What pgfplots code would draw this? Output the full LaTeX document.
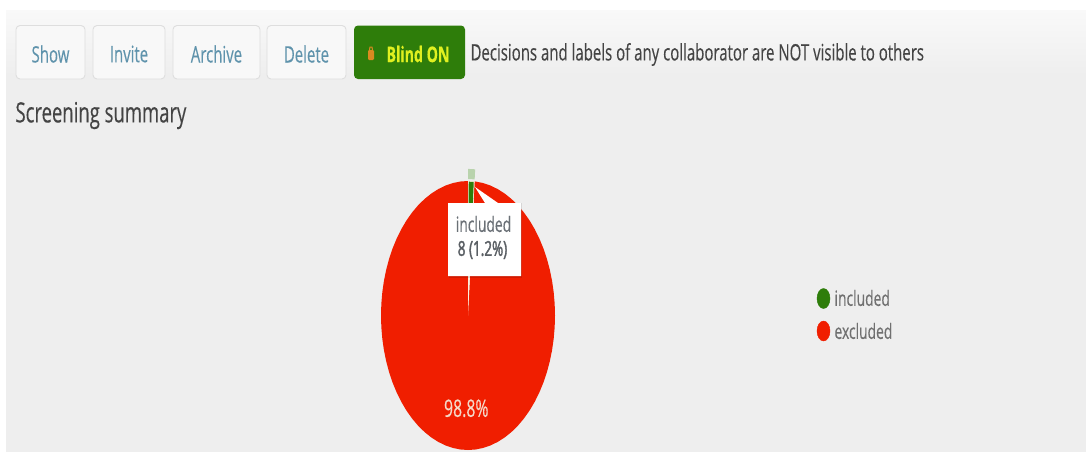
\documentclass[border=0pt]{standalone}
\usepackage{pgfplots}
\pgfplotsset{compat=1.18}
\usepackage{fontspec}
\setmainfont[FakeStretch=0.66,FakeBold=0.25]{Open Sans}
\newfontfamily\mediumface[FakeStretch=0.66,FakeBold=1.8]{Open Sans}
\definecolor{pagebg}{HTML}{EEEEEE}
\definecolor{topbg}{HTML}{F9F9F9}
\definecolor{btnfill}{HTML}{F8F8F8}
\definecolor{linkblue}{HTML}{5F93AC}
\definecolor{btnedge}{HTML}{DEDEDE}
\definecolor{incl}{HTML}{2E7D0A}
\definecolor{excl}{HTML}{F01E00}
\definecolor{inclhalo}{HTML}{B9D3AD}
\definecolor{inclrim}{HTML}{FBF0DC}
\definecolor{bodytext}{HTML}{444444}
\definecolor{softtext}{HTML}{707070}
\definecolor{tiptext}{HTML}{6A7076}
\definecolor{lime}{HTML}{E0F020}
\definecolor{lock}{HTML}{D98A20}
\definecolor{pielabel}{HTML}{F5D8C8}
\newcommand{\btn}[3]{%
  \draw[btnedge,fill=btnfill,rounded corners=4pt,line width=.9pt]
    (axis cs:#1,25.5) rectangle (axis cs:#2,79);
  \node[linkblue,font=\fontsize{22.7}{24}\selectfont,anchor=center]
    at (axis cs:{(#1+#2)/2},54) {#3};}
\begin{document}
\begin{tikzpicture}[x=1pt,y=1pt]
% Page layer: coordinates run in screen units, top-left origin
\begin{axis}[name=page,at={(0,0)},anchor=south west,scale only axis,
  width=1086pt,height=453pt,xmin=0,xmax=1086,ymin=0,ymax=453,y dir=reverse,
  hide axis,clip=false]
  \fill[white] (axis cs:0,0) rectangle (axis cs:1086,453);
  \fill[pagebg] (axis cs:6,75) rectangle (axis cs:1086,452);
  \shade[top color=topbg,bottom color=pagebg] (axis cs:6,10) rectangle (axis cs:1086,75);
  \btn{16}{85}{Show}
  \btn{93}{165}{Invite}
  \btn{173}{260}{Archive}
  \btn{267}{346}{Delete}
  \fill[incl,rounded corners=4pt] (axis cs:354,25.5) rectangle (axis cs:465,79);
  \fill[lock,rounded corners=1.2pt] (axis cs:368,50) rectangle (axis cs:374,60);
  \draw[lock,line width=1pt] (axis cs:369.5,50) -- (axis cs:370,47) -- (axis cs:372,47) -- (axis cs:372.5,50);
  \node[lime,font=\fontsize{21.5}{24}\bfseries\selectfont] at (axis cs:418,54) {Blind ON};
  \node[bodytext,anchor=west,font=\fontsize{22.7}{24}\selectfont] at (axis cs:467,54.5)
    {Decisions and labels of any collaborator are NOT visible to others};
  \node[bodytext,anchor=west,font=\fontsize{28}{30}\selectfont] at (axis cs:12,115.5) {Screening summary};
  % Legend
  \addplot[only marks,mark=*,mark size=10pt,incl,mark options={xscale=.65}] coordinates {(823.5,298.5)};
  \addplot[only marks,mark=*,mark size=10pt,excl,mark options={xscale=.65}] coordinates {(823.5,331)};
  \node[softtext,anchor=west,font=\fontsize{21}{22}\selectfont] at (axis cs:831,298) {included};
  \node[softtext,anchor=west,font=\fontsize{21}{22}\selectfont] at (axis cs:831,331) {excluded};
\end{axis}
% Pie: 8 included, 659 excluded, starting at twelve o'clock and running clockwise
\begin{axis}[at={(381pt,3pt)},anchor=south west,scale only axis,
  width=174pt,height=269pt,xmin=-1,xmax=1,ymin=-1,ymax=1,hide axis,clip=false]
  \addplot[fill=excl,draw=none,data cs=polar] coordinates {
    (0,0) (85.68,1) (85,1) (80,1) (75,1) (70,1) (65,1) (60,1) (55,1) (50,1) (45,1) (40,1) (35,1) (30,1)
    (25,1) (20,1) (15,1) (10,1) (5,1) (0,1)
    (-5,1) (-10,1) (-15,1) (-20,1) (-25,1) (-30,1) (-35,1) (-40,1) (-45,1) (-50,1) (-55,1) (-60,1)
    (-65,1) (-70,1) (-75,1) (-80,1) (-85,1) (-90,1) (-95,1) (-100,1) (-105,1) (-110,1) (-115,1) (-120,1)
    (-125,1) (-130,1) (-135,1) (-140,1) (-145,1) (-150,1) (-155,1) (-160,1) (-165,1) (-170,1) (-175,1) (-180,1)
    (-185,1) (-190,1) (-195,1) (-200,1) (-205,1) (-210,1) (-215,1) (-220,1) (-225,1) (-230,1) (-235,1) (-240,1)
    (-245,1) (-250,1) (-255,1) (-260,1) (-265,1) (-270,1) (0,0)};
  % Hovered slice: pale halo outside the rim, light core, green outer band
  \addplot[fill=inclhalo,draw=none,data cs=polar] coordinates {(90,1.015) (90,1.09) (85.68,1.09) (85.68,1.015) (90,1.015)};
  \addplot[fill=inclrim,draw=none,data cs=polar] coordinates {(0,0) (90,1) (85.68,1) (0,0)};
  \addplot[fill=incl,draw=none,data cs=polar] coordinates {(89.5,.8) (89.5,.995) (86.2,.995) (86.2,.8) (89.5,.8)};
  \node[pielabel,font=\fontsize{24}{26}\selectfont] at (axis cs:-.02,-.69) {98.8\%};
\end{axis}
% Tooltip on top of the pie
\begin{axis}[at={(0,0)},anchor=south west,scale only axis,
  width=1086pt,height=453pt,xmin=0,xmax=1086,ymin=0,ymax=453,y dir=reverse,
  hide axis,clip=false]
  \fill[black,opacity=.12] (axis cs:449,203) rectangle (axis cs:522,277.5);
  \fill[white] (axis cs:475,187) -- (axis cs:498,203) -- (axis cs:521,203)
    -- (axis cs:521,276) -- (axis cs:448,276) -- (axis cs:448,203) -- (axis cs:485,203) -- cycle;
  \node[tiptext,anchor=center,font=\fontsize{21}{22}\selectfont] at (axis cs:483.5,224) {included};
  \node[tiptext!85!black,anchor=center,font=\fontsize{20.5}{22}\mediumface\selectfont] at (axis cs:482.5,250) {8 (1.2\%)};
\end{axis}
\end{tikzpicture}
\end{document}
